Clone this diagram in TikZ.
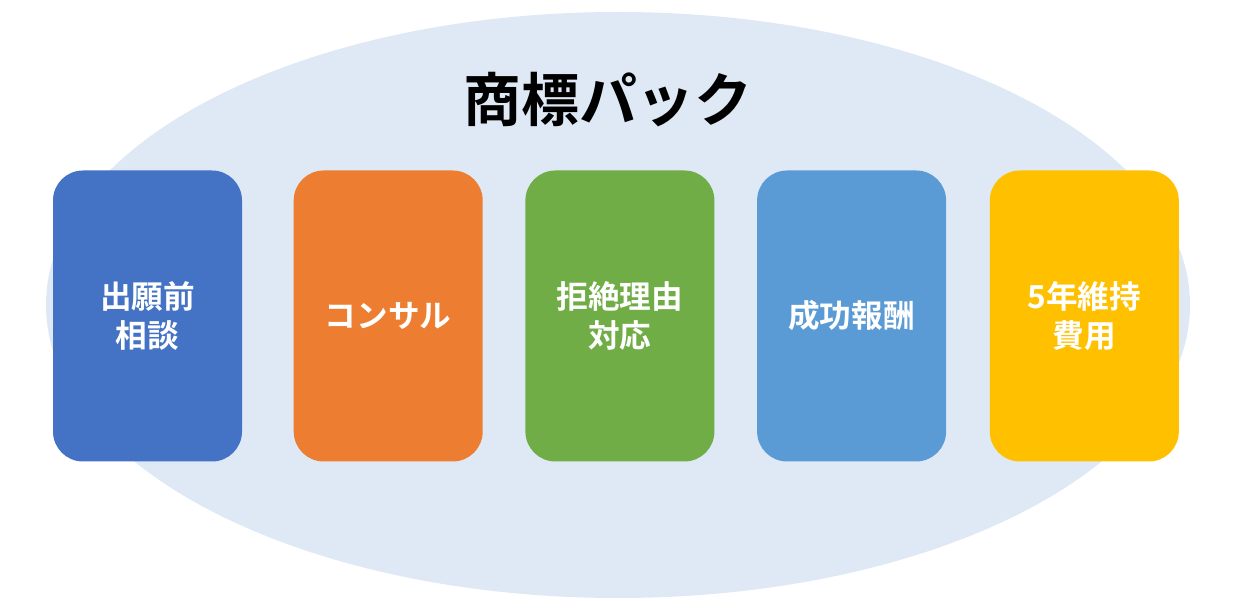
\documentclass[tikz,border=0pt]{standalone}
\usepackage{fontspec}
\newfontfamily\cjk{Noto Sans CJK JP}[BoldFont={* Bold}]
\usetikzlibrary{positioning}
\definecolor{packbg}{HTML}{DEE9F5}
\definecolor{cblue}{HTML}{4472C4}
\definecolor{corange}{HTML}{ED7D31}
\definecolor{cgreen}{HTML}{70AD47}
\definecolor{csky}{HTML}{5B9BD5}
\definecolor{cgold}{HTML}{FFC000}

\tikzset{
  item/.style={draw=none, fill=#1, rounded corners=0.6cm, minimum width=3.78cm,
    minimum height=5.82cm, align=center, text=white,
    font=\cjk\bfseries\fontsize{18}{22}\selectfont}
}

\begin{document}
\begin{tikzpicture}
   \useasboundingbox (0,0) rectangle (24.82,12.16);
   \fill[packbg] (12.36,6.06) ellipse [x radius=11.44cm, y radius=5.86cm];

   \node[font=\cjk\bfseries\fontsize{33}{36}\selectfont] (title) at (12.16,10.16) {商標パック};

   \node[item=cblue] (soudan) at (2.95,5.84) {出願前\\相談};
   \node[item=corange, right=1.02cm of soudan] (consul) {コンサル};
   \node[item=cgreen, right=0.84cm of consul] (kyozetsu) {拒絶理由\\対応};
   \node[item=csky, right=0.84cm of kyozetsu] (houshu) {成功報酬};
   \node[item=cgold, right=0.86cm of houshu] (iji) {5年維持\\費用};
\end{tikzpicture}
\end{document}
